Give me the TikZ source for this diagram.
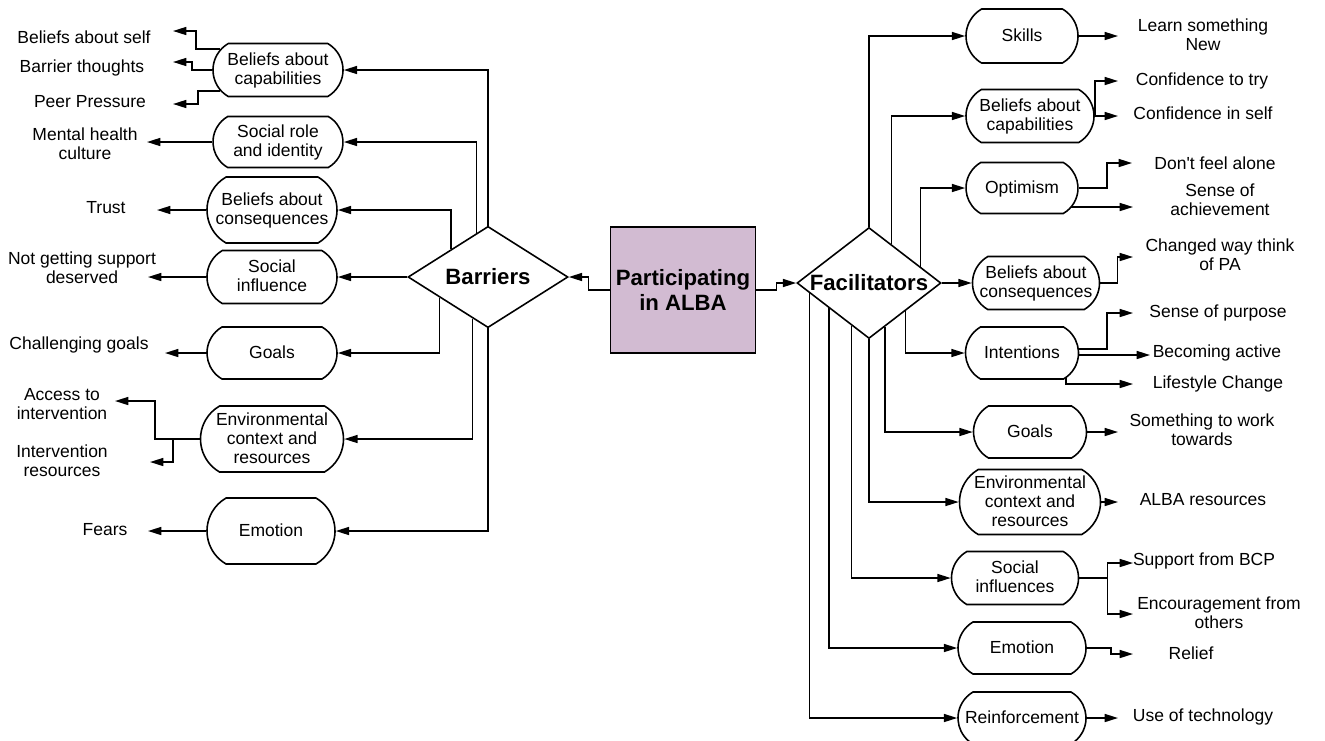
\documentclass[tikz,border=0pt]{standalone}
\usepackage{fontspec}
\setmainfont{Liberation Sans}
\usetikzlibrary{arrows.meta,calc,shapes.geometric,shapes.misc}
\newdimen\pxu \pxu=0.6pt
\newcommand{\lblfont}{\fontsize{10.5}{11.4}\selectfont}
\newcommand{\hdfont}{\fontsize{13.3}{15}\selectfont\bfseries}
\newcommand{\bx}[1]{\makebox[0pt]{\raisebox{-0.8pt}[\height][\depth]{\begin{tabular}{@{}c@{}}#1\end{tabular}}}}
\definecolor{albapurple}{HTML}{D2BBD2}

\begin{document}
\begin{tikzpicture}[x=0.6pt, y=-0.6pt, line width=0.95pt, >={Triangle[length=8pt,width=4.8pt]},
  box/.style={draw,rounded rectangle,rounded rectangle arc length=120,font=\lblfont,inner xsep=0pt,inner ysep=1pt},
  sz/.style 2 args={minimum width=#1\pxu,minimum height=#2\pxu},
  diam/.style={draw,diamond,font=\hdfont,inner sep=0pt},
  lbl/.style={align=center,font=\lblfont,inner sep=1pt}]
\path[use as bounding box,fill=white] (0,0) rectangle (1325,740);

\node[draw,fill=albapurple,font=\hdfont,align=center,sz={142}{126}] (alba) at (683,290) {Participating\\in ALBA};
\node[diam,sz={160}{98}] (bar) at (488,277) {Barriers};
\node[diam,aspect=1.3,sz={144}{111}] (fac) at (869,283) {Facilitators};

\node[box,sz={130}{53}] (bacL) at (278,70) {\bx{Beliefs about\\capabilities}};
\node[box,sz={130}{51}] (sriL) at (278,142) {\bx{Social role\\and identity}};
\node[box,sz={130}{66}] (bcoL) at (272,210) {\bx{Beliefs about\\consequences}};
\node[box,sz={130}{53}] (sinL) at (272,277) {\bx{Social\\influence}};
\node[box,sz={130}{52}] (golL) at (272,353) {\bx{Goals}};
\node[box,sz={143}{66}] (envL) at (272,439) {\bx{Environmental\\context and\\resources}};
\node[box,sz={128}{66}] (emoL) at (271,531) {\bx{Emotion}};

\node[box,sz={112}{54}] (skl) at (1022,36) {\bx{Skills}};
\node[box,sz={128}{53}] (bcaR) at (1030,116) {\bx{Beliefs about\\capabilities}};
\node[box,sz={112}{51}] (opt) at (1022,188) {\bx{Optimism}};
\node[box,sz={127}{53}] (bcoR) at (1036,283) {\bx{Beliefs about\\consequences}};
\node[box,sz={113}{52}] (int) at (1022,353) {\bx{Intentions}};
\node[box,sz={113}{52}] (golR) at (1030,432) {\bx{Goals}};
\node[box,sz={141}{65}] (envR) at (1030,502) {\bx{Environmental\\context and\\resources}};
\node[box,sz={127}{53}] (sif) at (1015,578) {\bx{Social\\influences}};
\node[box,sz={128}{52}] (emoR) at (1022,648) {\bx{Emotion}};
\node[box,sz={128}{52}] (rnf) at (1022,718) {\bx{Reinforcement}};

\node[lbl] (lSelf) at (84,37) {Beliefs about self};
\node[lbl] (lBar) at (82,68) {Barrier thoughts};
\node[lbl] (lPeer) at (90,102) {Peer Pressure};
\node[lbl] (lMhc) at (85,144) {Mental health\\culture};
\node[lbl] (lTru) at (106,208) {Trust};
\node[lbl] (lNgs) at (82,268) {Not getting support\\deserved};
\node[lbl] (lChg) at (79,345) {Challenging goals};
\node[lbl] (lAcc) at (62,404) {Access to\\intervention};
\node[lbl] (lIres) at (62,461) {Intervention\\resources};
\node[lbl] (lFea) at (105,530) {Fears};

\node[lbl] (lLsn) at (1203,35) {Learn something\\New};
\node[lbl] (lCtt) at (1202,81) {Confidence to try};
\node[lbl] (lCis) at (1203,113) {Confidence in self};
\node[lbl] (lDfa) at (1215,163) {Don\textquotesingle t feel alone};
\node[lbl] (lSoa) at (1220,200) {Sense of\\achievement};
\node[lbl] (lCwt) at (1220,255) {Changed way think\\of PA};
\node[lbl] (lSop) at (1218,313) {Sense of purpose};
\node[lbl] (lBca) at (1217,353) {Becoming active};
\node[lbl] (lLsc) at (1218,384) {Lifestyle Change};
\node[lbl] (lStw) at (1202,430) {Something to work\\towards};
\node[lbl] (lAlr) at (1203,500) {ALBA resources};
\node[lbl] (lSfb) at (1204,561) {Support from BCP};
\node[lbl] (lEfo) at (1219,613) {Encouragement from\\others};
\node[lbl] (lRel) at (1191,653) {Relief};
\node[lbl] (lUot) at (1203,717) {Use of technology};

\coordinate (tSelf) at (173,31); \coordinate (tBar) at (173,62); \coordinate (tPeer) at (173,104);
\coordinate (tMhc) at (147,142); \coordinate (tTru) at (157,210); \coordinate (tNgs) at (148,277);
\coordinate (tChg) at (165,353); \coordinate (tAcc) at (115,401); \coordinate (tIres) at (150,462);
\coordinate (tFea) at (148,531);
\coordinate (tLsn) at (1118,36); \coordinate (tCtt) at (1118,81); \coordinate (tCis) at (1118,116);
\coordinate (tDfa) at (1132,163); \coordinate (tSoa) at (1133,207); \coordinate (tCwt) at (1133,257);
\coordinate (tSop) at (1133,313); \coordinate (tBca) at (1150,355); \coordinate (tLsc) at (1133,384);
\coordinate (tStw) at (1118,432); \coordinate (tAlr) at (1118,502); \coordinate (tSfb) at (1133,563);
\coordinate (tEfo) at (1133,614); \coordinate (tRel) at (1133,654); \coordinate (tUot) at (1118,718);

\draw[->] (alba.west) -- ++(-21,0) |- (bar.east); \draw[->] (alba.east) -- ++(20,0) |- (fac.west);

\draw[->] (bar.north) |- (bacL.east);
\draw[->] ($(bar.north)!.14!(bar.west)$) |- (sriL.east);
\draw[->] ($(bar.north)!.46!(bar.west)$) |- (bcoL.east);
\draw[->] (bar.west) -- (sinL.east);
\draw[->] ($(bar.south)!.6!(bar.west)$) |- (golL.east);
\draw[->] ($(bar.south)!.19!(bar.west)$) |- (envL.east);
\draw[->] (bar.south) |- (emoL.east);

\draw[->] (fac.north) |- (skl.west);
\draw[->] ($(fac.north)!.31!(fac.east)$) |- (bcaR.west);
\draw[->] ($(fac.north)!.71!(fac.east)$) |- (opt.west);
\draw[->] (fac.east) -- (bcoR.west);
\draw[->] ($(fac.south)!.5!(fac.east)$) |- (int.west);
\draw[->] ($(fac.south)!.22!(fac.east)$) |- (golR.west);
\draw[->] (fac.south) |- (envR.west);
\draw[->] ($(fac.south)!.24!(fac.west)$) |- (sif.west);
\draw[->] ($(fac.south)!.55!(fac.west)$) |- (emoR.west);
\draw[->] ($(fac.south)!.82!(fac.west)$) |- (rnf.west);

\draw[->] (bacL.160) -- ++(-24,0) |- (tSelf); \draw[->] (bacL.west) -- ++(-20,0) |- (tBar);
\draw[->] (bacL.200) -- ++(-22,0) |- (tPeer);
\draw[->] (sriL.west) |- (tMhc); \draw[->] (bcoL.west) |- (tTru); \draw[->] (sinL.west) |- (tNgs);
\draw[->] (golL.west) |- (tChg);
\draw[->] (envL.west) -- ++(-45,0) |- (tAcc); \draw[->] (envL.west) -- ++(-27,0) |- (tIres);
\draw[->] (emoL.west) |- (tFea);

\draw[->] (skl.east) |- (tLsn);
\draw[->] (bcaR.east) |- (tCtt); \draw[->] (bcaR.east) |- (tCis);
\draw[->] (opt.east) -- ++(28,0) |- (tDfa); \draw[->] (opt.-22) |- (tSoa);
\draw[->] (bcoR.east) -- ++(17,0) |- (tCwt);
\draw[->] (int.4) -- ++(28,0) |- (tSop); \draw[->] (int.-3) |- (tBca);
\draw[->] (int.-30) |- (tLsc);
\draw[->] (golR.east) |- (tStw); \draw[->] (envR.east) |- (tAlr);
\draw[->] (sif.east) -- ++(28,0) |- (tSfb); \draw[->] (sif.east) -- ++(28,0) |- (tEfo);
\draw[->] (emoR.east) -- ++(24,0) |- (tRel);
\draw[->] (rnf.east) |- (tUot);
\end{tikzpicture}
\end{document}
